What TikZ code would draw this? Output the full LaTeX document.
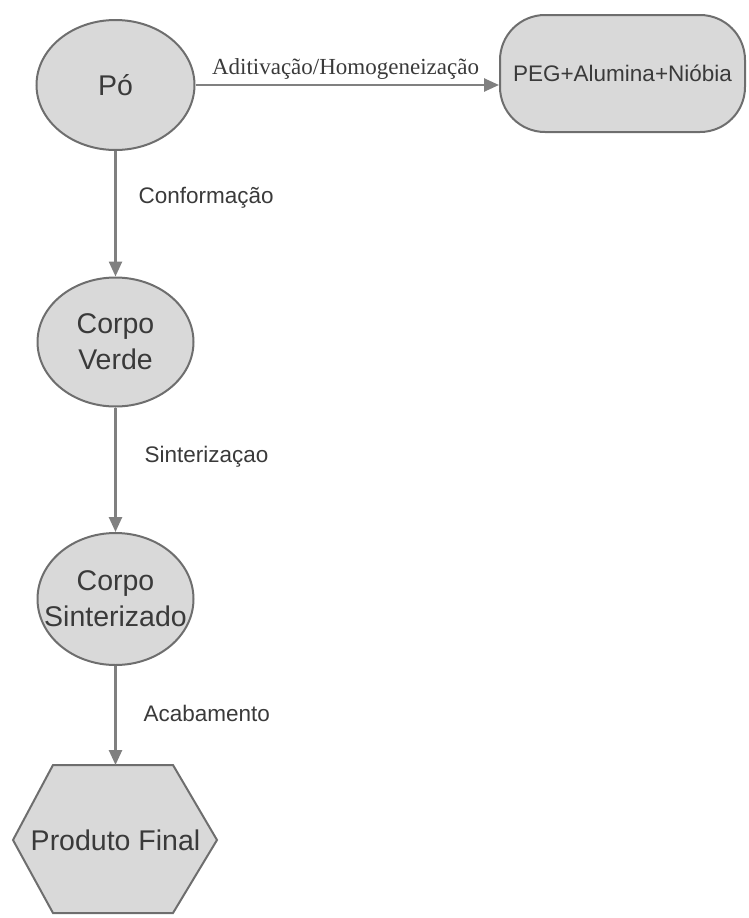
\documentclass[tikz,border=0pt]{standalone}
\usepackage{fontspec}
\setmainfont{Liberation Sans}
\newfontfamily\serifl{Liberation Serif}
\usetikzlibrary{shapes.geometric,arrows.meta}
\definecolor{nodefill}{HTML}{D9D9D9}
\definecolor{nodeline}{HTML}{6E6E6E}
\definecolor{arrowcol}{HTML}{808080}
\definecolor{txt}{HTML}{3A3A3A}
\begin{document}
\begin{tikzpicture}[x=1pt,y=-1pt,
 oval/.style={ellipse,draw=nodeline,fill=nodefill,line width=2pt,inner sep=0pt},
 ntext/.style={text=txt,font=\fontsize{28.5}{36}\selectfont,align=center,inner sep=0pt},
 flow/.style={draw=arrowcol,line width=2.5pt,-{Triangle[length=15pt,width=13pt]}},
 lbl/.style={text=txt,font=\fontsize{22.5}{26}\selectfont,anchor=west}]
\useasboundingbox (0,0) rectangle (748,918);
\node[oval,minimum width=158pt,minimum height=130pt] (po) at (115.5,85) {};
\node[ntext] (pot) at (po) {Pó};
\node[draw=nodeline,fill=nodefill,line width=2pt,rounded corners=45pt,minimum width=245pt,minimum height=117pt,inner sep=0pt,text=txt,font=\fontsize{22.5}{26}\selectfont] (peg) at (622.5,73.5) {PEG+Alumina+Nióbia};
\node[oval,minimum width=156pt,minimum height=129pt] (cv) at (115.5,342) {};
\node[ntext] (cvt) at (cv) {Corpo\\Verde};
\node[oval,minimum width=156pt,minimum height=132pt] (cs) at (115.5,599) {};
\node[ntext] (cst) at (cs) {Corpo\\Sinterizado};
\draw[draw=nodeline,fill=nodefill,line width=2pt] (53,765) -- (173,765) -- (217,840) -- (173,913) -- (53,913) -- (13,840) -- cycle;
\coordinate (pftop) at (115.5,765);
\node[ntext] (pf) at (115.5,840) {Produto Final};
\draw[flow] (po.east) -- (po.east -| peg.west);
\draw[flow] (po) -- (cv);
\draw[flow] (cv) -- (cs);
\draw[flow] (cs) -- (pftop);
\node[text=txt,font=\serifl\fontsize{23}{26}\selectfont] (l1) at (345.5,69) {Aditivação/Homogeneização};
\node[lbl] (l2) at (135,198) {Conformação};
\node[lbl] (l3) at (141,457) {Sinterizaçao};
\node[lbl] (l4) at (140,713) {Acabamento};
\end{tikzpicture}
\end{document}
